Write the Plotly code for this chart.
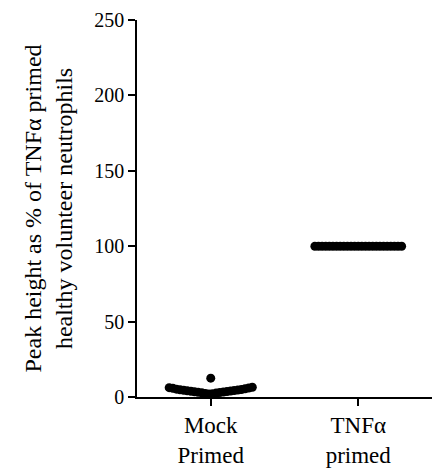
import plotly.graph_objects as go

categories = ["Mock<br>Primed", "TNFα<br>primed"]
mock_values = [12.5, 6.5, 6.2, 6.0, 5.8, 5.5, 5.2, 5.0, 4.8, 4.6, 4.5, 4.3,
               4.1, 4.0, 3.8, 3.6, 3.5, 3.3, 3.1, 3.0, 2.8, 2.6, 2.4, 2.2, 2.0]
tnf_values = [100.0] * 25
y_ticks = [0, 50, 100, 150, 200, 250]

FONT = "Times New Roman, Liberation Serif, DejaVu Serif, serif"


def swarm_offsets(values, bin_width=8.0, step=0.0245):
    """Arrange points of each value bin side by side, lowest in the centre."""
    bins = {}
    for idx, v in enumerate(values):
        bins.setdefault(int(v // bin_width), []).append(idx)
    offsets = [0.0] * len(values)
    for members in bins.values():
        members = sorted(members, key=lambda i: values[i])
        k = len(members)
        slots = sorted(range(k), key=lambda s: abs(s - (k - 1) / 2))
        for m, s in zip(members, slots):
            offsets[m] = (s - (k - 1) / 2) * step
    return offsets


fig = go.Figure()
for ci, vals in enumerate([mock_values, tnf_values]):
    offs = swarm_offsets(vals)
    fig.add_trace(go.Scatter(
        x=[ci + o for o in offs], y=vals, mode="markers",
        marker=dict(color="black", size=9, line=dict(width=0)),
        cliponaxis=False, showlegend=False,
    ))

# page body has an 8px default margin, so the figure is sized to fit
fig.update_layout(
    width=435, height=464,
    margin=dict(l=129, r=11, t=12, b=75, autoexpand=False),
    paper_bgcolor="white", plot_bgcolor="white",
    font=dict(family=FONT, size=21, color="black"),
    xaxis=dict(
        range=[-0.5, 1.5], tickmode="array", tickvals=[0, 1], ticktext=categories,
        showline=True, linecolor="black", linewidth=1.5, ticks="outside",
        ticklen=7, tickwidth=1.5, tickcolor="black", showgrid=False, zeroline=False,
        tickfont=dict(family=FONT, size=23, color="black"),
    ),
    yaxis=dict(
        range=[0, 250], tickmode="array", tickvals=y_ticks,
        showline=True, linecolor="black", linewidth=1.5, ticks="outside",
        ticklen=7, tickwidth=1.5, tickcolor="black", showgrid=False, zeroline=False,
        tickfont=dict(family=FONT, size=20, color="black"),
        title=dict(text="Peak height as % of TNFα primed<br>healthy volunteer neutrophils",
                   font=dict(family=FONT, size=24, color="black"), standoff=15),
    ),
)

fig.write_html("out.html")
